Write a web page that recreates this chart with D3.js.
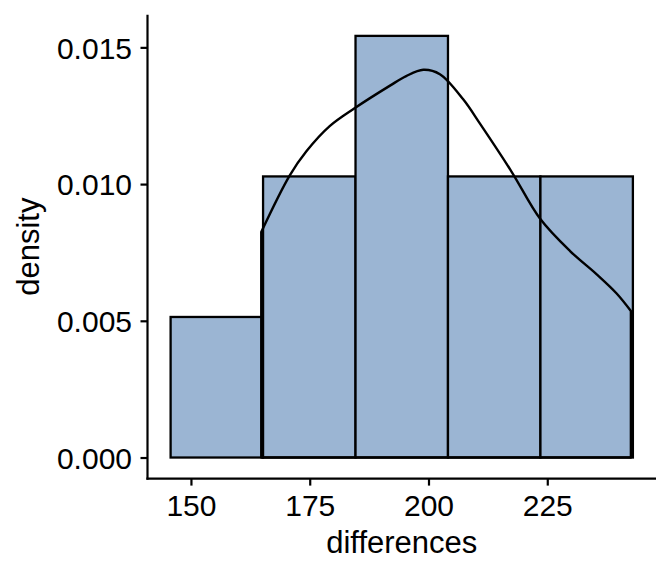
<!DOCTYPE html>
<html>
<head>
<meta charset="utf-8">
<script src="https://cdn.jsdelivr.net/npm/d3@7"></script>
<style>
  html, body { margin: 0; padding: 0; background: #fff; }
  svg { display: block; }
  text { font-family: "Liberation Sans", Arial, Helvetica, sans-serif; fill: #000; }
</style>
</head>
<body>
<svg id="chart" width="672" height="576"></svg>
<script>
// ---- data ----
const binEdges = [145.72, 165.18, 184.64, 204.10, 223.56, 243.02];
const binDensity = [0.00514, 0.01028, 0.01542, 0.01028, 0.01028];

const densX = [164.8, 170.8, 174.3, 179.2, 184.5, 191.9, 195.3, 198.9, 202.4, 207.3, 210.8, 217.5, 223.5, 229.8, 235.4, 239.6, 242.6];
const densY = [0.00825, 0.01032, 0.01120, 0.01212, 0.01278, 0.01360, 0.01395, 0.01418, 0.01402, 0.01310, 0.01222, 0.01045, 0.00873, 0.00755, 0.00670, 0.00600, 0.00536];

const xTicks = [150, 175, 200, 225];
const yTicks = [0.000, 0.005, 0.010, 0.015];
const xTitle = "differences";
const yTitle = "density";

// ---- layout ----
const svg = d3.select("#chart");
const panel = { left: 147.5, right: 656, top: 14.8, bottom: 478.6 };

const xLo = binEdges[0], xHi = binEdges[binEdges.length - 1];
const xPad = (xHi - xLo) * 0.05;
const yMax = d3.max(binDensity);
const yPad = yMax * 0.05;

const x = d3.scaleLinear().domain([xLo - xPad, xHi + xPad]).range([panel.left, panel.right]);
const y = d3.scaleLinear().domain([-yPad, yMax + yPad]).range([panel.bottom, panel.top]);

const bins = binDensity.map((d, i) => ({ x0: binEdges[i], x1: binEdges[i + 1], d }));

// bars
svg.append("g").selectAll("rect").data(bins).join("rect")
  .attr("x", b => x(b.x0))
  .attr("width", b => x(b.x1) - x(b.x0))
  .attr("y", b => y(b.d))
  .attr("height", b => y(0) - y(b.d))
  .attr("fill", "#9BB5D3")
  .attr("stroke", "#000")
  .attr("stroke-width", 2.3);

// density outline (full)
const dens = densX.map((v, i) => ({ v, d: densY[i] }));
const area = d3.area()
  .x(p => x(p.v))
  .y0(y(0))
  .y1(p => y(p.d))
  .curve(d3.curveCatmullRom.alpha(0.5));
svg.append("path")
  .datum(dens)
  .attr("d", area)
  .attr("fill", "none")
  .attr("stroke", "#000")
  .attr("stroke-width", 2.4)
  .attr("stroke-linejoin", "round");

// axes
const xAxis = d3.axisBottom(x).tickValues(xTicks).tickSize(7).tickPadding(8).tickFormat(d3.format("d"));
const yAxis = d3.axisLeft(y).tickValues(yTicks).tickSize(7).tickPadding(8).tickFormat(d3.format(".3f"));

const gx = svg.append("g").attr("transform", `translate(0,${panel.bottom})`).call(xAxis);
const gy = svg.append("g").attr("transform", `translate(${panel.left},0)`).call(yAxis);

[gx, gy].forEach(g => {
  g.select(".domain").attr("stroke", "#000").attr("stroke-width", 2.2);
  g.selectAll(".tick line").attr("stroke", "#000").attr("stroke-width", 2.2);
  g.selectAll(".tick text").attr("font-size", 30).attr("fill", "#000")
    .attr("font-family", "Liberation Sans, Arial, sans-serif");
});
// axis lines without end caps
gx.select(".domain").attr("d", `M${panel.left - 1.1},0H${panel.right}`);
gy.select(".domain").attr("d", `M0,${panel.top}V${panel.bottom + 1.1}`);

gx.selectAll(".tick text").attr("dy", null).attr("y", 37.5);
gy.selectAll(".tick text").attr("dy", null).attr("y", 10.8).attr("x", -15.5);

// titles
svg.append("text")
  .attr("x", (panel.left + panel.right) / 2)
  .attr("y", 552.7)
  .attr("text-anchor", "middle")
  .attr("font-size", 31)
  .text(xTitle);

svg.append("text")
  .attr("transform", `translate(39,${(panel.top + panel.bottom) / 2}) rotate(-90)`)
  .attr("text-anchor", "middle")
  .attr("font-size", 31)
  .text(yTitle);
</script>
</body>
</html>
